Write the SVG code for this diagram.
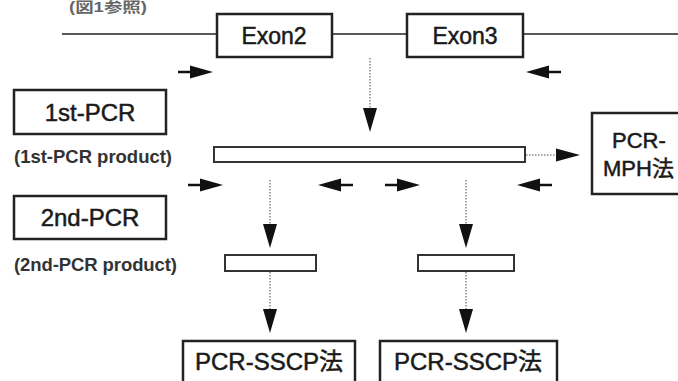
<svg xmlns="http://www.w3.org/2000/svg" width="678" height="381" viewBox="0 0 678 381">
<defs>
<style>
.box{fill:#fff;stroke:#222;stroke-width:2.5}
.bar{fill:#fff;stroke:#333;stroke-width:2}
.t{font-family:"Liberation Sans","Noto Sans CJK JP",Arial,sans-serif;fill:#1a1a1a;stroke:#1a1a1a;stroke-width:0.5;text-anchor:middle}
.big{font-size:23px}
.small{font-size:18.5px;font-weight:bold;fill:#333;stroke:none;text-anchor:start}
.line{stroke:#222;stroke-width:1.5;fill:none}
.dot{stroke:#888;stroke-width:1.5;stroke-dasharray:1.5 1.5;fill:none}
.head{fill:#111}
.ptail{stroke:#111;stroke-width:2.5}
</style>
<g id="primerR"><line class="ptail" x1="0" y1="0" x2="14" y2="0"/><path class="head" d="M12,-6.5 L35,0 L12,6.5 Z"/></g>
<g id="primerL"><line class="ptail" x1="0" y1="0" x2="-14" y2="0"/><path class="head" d="M-12,-6.5 L-35,0 L-12,6.5 Z"/></g>
<path id="vhead" class="head" d="M-7,0 L7,0 L0,24 Z"/>
</defs>

<text class="t" x="108" y="12" style="font-size:14px;font-weight:bold;fill:#666;stroke:none" textLength="78" lengthAdjust="spacingAndGlyphs">(図1参照)</text>

<g id="gene">
<line class="line" x1="62" y1="34" x2="678" y2="34"/>
</g>
<g id="exon2"><rect class="box" x="217" y="14" width="115" height="43"/><text class="t big" x="274" y="44">Exon2</text></g>
<g id="exon3"><rect class="box" x="407" y="14" width="116" height="43"/><text class="t big" x="465" y="44">Exon3</text></g>

<g id="pcr1"><rect class="box" x="14" y="90" width="152" height="44"/><text class="t" x="90" y="121" style="font-size:24px">1st-PCR</text></g>
<g id="pcr1label"><text class="t small" x="14" y="163" textLength="158">(1st-PCR product)</text></g>
<g id="pcr1product"><rect class="bar" x="214" y="147" width="311" height="15"/></g>

<g id="mph"><rect class="box" x="592" y="113" width="95" height="81"/><text class="t" x="612" y="148" style="font-size:22px;text-anchor:start">PCR-</text><text class="t" x="603" y="176" style="font-size:22px;text-anchor:start">MPH法</text></g>

<g id="pcr2"><rect class="box" x="14" y="196" width="152" height="43"/><text class="t" x="90" y="226" style="font-size:24px">2nd-PCR</text></g>
<g id="pcr2label"><text class="t small" x="14" y="271" textLength="163">(2nd-PCR product)</text></g>
<g id="pcr2productA"><rect class="bar" x="225" y="255" width="91" height="16"/></g>
<g id="pcr2productB"><rect class="bar" x="418" y="255" width="96" height="16"/></g>

<g id="sscpA"><rect class="box" x="183" y="341" width="172" height="50"/><text class="t" x="269" y="370" style="font-size:24px">PCR-SSCP法</text></g>
<g id="sscpB"><rect class="box" x="380" y="341" width="177" height="50"/><text class="t" x="468" y="370" style="font-size:24px">PCR-SSCP法</text></g>

<g id="connectors">
<use href="#primerR" x="178" y="72"/>
<use href="#primerL" x="561" y="72"/>
<use href="#primerR" x="188" y="185"/>
<use href="#primerL" x="353" y="185"/>
<use href="#primerR" x="385" y="185"/>
<use href="#primerL" x="552" y="185"/>

<line class="dot" x1="370" y1="58" x2="370" y2="110"/>
<use href="#vhead" x="370" y="108"/>

<line class="dot" x1="526" y1="155" x2="558" y2="155"/>
<path class="head" d="M556,148.5 L580,155 L556,161.5 Z"/>

<line class="dot" x1="270" y1="180" x2="270" y2="226"/>
<use href="#vhead" x="270" y="224"/>
<line class="dot" x1="270" y1="272" x2="270" y2="311"/>
<use href="#vhead" x="270" y="309"/>

<line class="dot" x1="466" y1="180" x2="466" y2="226"/>
<use href="#vhead" x="466" y="224"/>
<line class="dot" x1="466" y1="272" x2="466" y2="311"/>
<use href="#vhead" x="466" y="309"/>
</g>
</svg>
